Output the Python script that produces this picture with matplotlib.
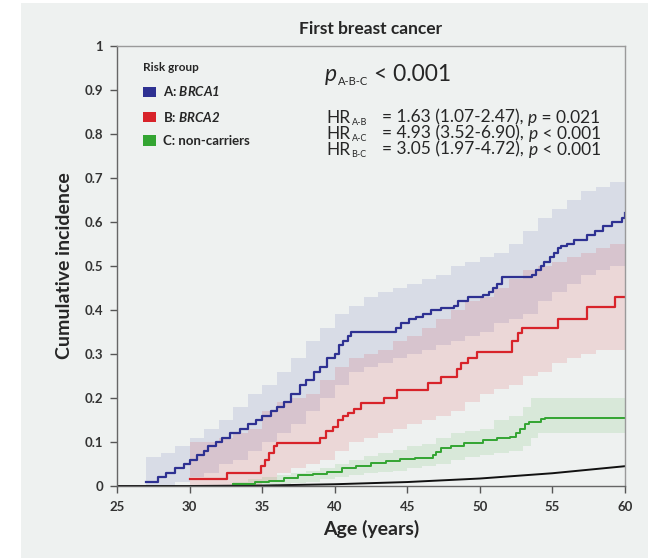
import matplotlib
matplotlib.use("Agg")
import matplotlib.pyplot as plt
from matplotlib.patches import Patch, Rectangle
import numpy as np

plt.rcParams['font.family'] = ['Lato', 'DejaVu Sans']
plt.rcParams['mathtext.fontset'] = 'custom'
plt.rcParams['mathtext.rm'] = 'Lato'
plt.rcParams['mathtext.it'] = 'Lato:italic'
plt.rcParams['mathtext.bf'] = 'Lato:bold'
plt.rcParams['mathtext.bfit'] = 'Lato:bold:italic'

# ---- data ----
# A: BRCA1
brca1_age = [27.0, 27.8, 28.4, 29.0, 29.6, 30.0, 30.5, 31.0, 31.3, 31.8, 32.2, 32.8,
             33.5, 34.0, 34.6, 35.0, 35.6, 36.0, 36.5, 37.0, 37.6, 38.0, 38.6, 39.0,
             39.5, 40.0, 40.3, 40.6, 40.9, 41.1, 44.2, 44.6, 45.1, 45.6, 46.1, 46.6,
             47.3, 48.2, 48.5, 49.2, 50.2, 50.6, 50.9, 51.2, 51.5, 53.6, 53.9, 54.2,
             54.4, 54.8, 55.1, 55.4, 55.6, 56.0, 56.5, 57.4, 57.9, 58.5, 59.1, 59.8, 60.0]
brca1_ci = [0.01, 0.02, 0.03, 0.04, 0.05, 0.06, 0.07, 0.08, 0.09, 0.10, 0.11, 0.12,
            0.13, 0.14, 0.15, 0.16, 0.17, 0.18, 0.19, 0.21, 0.23, 0.24, 0.26, 0.27,
            0.29, 0.30, 0.32, 0.33, 0.34, 0.35, 0.36, 0.37, 0.38, 0.385, 0.39, 0.40,
            0.405, 0.41, 0.42, 0.43, 0.435, 0.44, 0.45, 0.46, 0.475, 0.48, 0.49, 0.50,
            0.51, 0.52, 0.53, 0.54, 0.545, 0.55, 0.56, 0.57, 0.58, 0.59, 0.60, 0.61, 0.62]
brca1_band_age = [27, 28, 29, 30, 31, 32, 33, 34, 35, 36, 37, 38, 39, 40, 41, 42, 43,
                  44, 45, 46, 47, 48, 49, 50, 51, 52, 53, 54, 55, 56, 57, 58, 59, 60]
brca1_hi = [0.065, 0.075, 0.09, 0.11, 0.13, 0.15, 0.18, 0.21, 0.23, 0.26, 0.29, 0.33,
            0.36, 0.39, 0.41, 0.43, 0.44, 0.45, 0.46, 0.47, 0.48, 0.50, 0.51, 0.52,
            0.53, 0.55, 0.58, 0.61, 0.63, 0.65, 0.67, 0.68, 0.69, 0.70]
brca1_lo = [0.0, 0.0, 0.01, 0.02, 0.03, 0.05, 0.06, 0.08, 0.10, 0.12, 0.14, 0.17,
            0.20, 0.23, 0.26, 0.27, 0.28, 0.29, 0.30, 0.31, 0.32, 0.33, 0.34, 0.35,
            0.37, 0.38, 0.39, 0.42, 0.44, 0.46, 0.48, 0.49, 0.50, 0.51]

# B: BRCA2
brca2_age = [30.0, 32.6, 34.9, 35.2, 35.5, 35.8, 36.0, 39.0, 39.4, 39.9, 40.2, 40.6,
             40.9, 41.3, 41.8, 43.4, 44.3, 46.4, 47.3, 48.4, 48.7, 49.2, 49.8, 52.2,
             52.6, 52.9, 55.4, 57.4, 59.3, 60.0]
brca2_ci = [0.015, 0.03, 0.045, 0.06, 0.075, 0.09, 0.098, 0.11, 0.125, 0.135, 0.15, 0.16,
            0.165, 0.175, 0.188, 0.20, 0.218, 0.233, 0.248, 0.265, 0.28, 0.29, 0.305, 0.33,
            0.348, 0.36, 0.38, 0.407, 0.43, 0.43]
brca2_band_age = [30, 31, 32, 33, 34, 35, 36, 37, 38, 39, 40, 41, 42, 43, 44, 45, 46,
                  47, 48, 49, 50, 51, 52, 53, 54, 55, 56, 57, 58, 59, 60]
brca2_hi = [0.10, 0.10, 0.11, 0.12, 0.13, 0.17, 0.19, 0.20, 0.21, 0.24, 0.27, 0.29,
            0.30, 0.31, 0.33, 0.34, 0.36, 0.38, 0.40, 0.42, 0.43, 0.45, 0.47, 0.49,
            0.50, 0.51, 0.52, 0.53, 0.54, 0.55, 0.56]
brca2_lo = [0.0, 0.0, 0.0, 0.0, 0.0, 0.01, 0.03, 0.04, 0.05, 0.06, 0.08, 0.10,
            0.11, 0.12, 0.13, 0.14, 0.15, 0.16, 0.17, 0.19, 0.21, 0.22, 0.23, 0.25,
            0.26, 0.28, 0.29, 0.30, 0.31, 0.31, 0.32]

# C: non-carriers
nonc_age = [33.0, 34.5, 35.5, 36.5, 37.5, 38.5, 39.5, 40.5, 41.5, 42.5, 43.5, 44.5,
            45.5, 46.8, 47.0, 47.3, 48.0, 48.9, 50.2, 51.2, 52.1, 52.5, 52.8, 53.1,
            53.4, 54.2, 54.5, 60.0]
nonc_ci = [0.005, 0.008, 0.012, 0.018, 0.024, 0.028, 0.032, 0.04, 0.046, 0.052, 0.057, 0.062,
           0.064, 0.07, 0.078, 0.086, 0.09, 0.097, 0.104, 0.108, 0.112, 0.12, 0.13, 0.14,
           0.145, 0.152, 0.155, 0.155]
nonc_band_age = [33, 34, 35, 36, 37, 38, 39, 40, 41, 42, 43, 44, 45, 46, 47, 48, 49,
                 50, 51, 52, 53, 53.5, 54, 60]
nonc_hi = [0.01, 0.015, 0.02, 0.025, 0.03, 0.035, 0.042, 0.05, 0.06, 0.068, 0.075, 0.082,
           0.09, 0.095, 0.11, 0.12, 0.125, 0.13, 0.15, 0.16, 0.18, 0.20, 0.20, 0.20]
nonc_lo = [0.0, 0.0, 0.0, 0.005, 0.007, 0.01, 0.015, 0.02, 0.025, 0.03, 0.032, 0.035,
           0.04, 0.045, 0.05, 0.06, 0.065, 0.07, 0.075, 0.08, 0.09, 0.11, 0.12, 0.12]

# general population reference line
pop_age = [25, 30, 35, 40, 45, 50, 55, 60]
pop_ci = [0.0, 0.0, 0.001, 0.004, 0.009, 0.017, 0.029, 0.045]

xticks = [25, 30, 35, 40, 45, 50, 55, 60]
yticks = [0, 0.1, 0.2, 0.3, 0.4, 0.5, 0.6, 0.7, 0.8, 0.9, 1]
ytick_labels = ["0", "0.1", "0.2", "0.3", "0.4", "0.5", "0.6", "0.7", "0.8", "0.9", "1"]

hr_subs = ["A-B", "A-C", "B-C"]
hr_vals = ["= 1.63 (1.07-2.47), ", "= 4.93 (3.52-6.90), ", "= 3.05 (1.97-4.72), "]
hr_ps = ["= 0.021", "< 0.001", "< 0.001"]

blue = "#2e3192"
red = "#d8232a"
green = "#33a532"
bg = "#eef1f0"
txtc = "#262626"

fig = plt.figure(figsize=(6.48, 5.58), dpi=100, facecolor="white")
fig.patches.append(Rectangle((21 / 648, 0), 1, 555 / 558, transform=fig.transFigure,
                             facecolor=bg, edgecolor="none", zorder=-10))
ax = fig.add_axes([117 / 648, 1 - 486 / 558, 508 / 648, 440 / 558])
ax.set_facecolor(bg)

# confidence bands
ax.fill_between(brca1_band_age, brca1_lo, brca1_hi, step="post", color="#3c46a0",
                alpha=0.12, lw=0)
ax.fill_between(brca2_band_age, brca2_lo, brca2_hi, step="post", color="#d7282f",
                alpha=0.13, lw=0)
ax.fill_between(nonc_band_age, nonc_lo, nonc_hi, step="post", color="#3aaa35",
                alpha=0.12, lw=0)

# curves
ax.plot(pop_age, pop_ci, color="#111111", lw=1.4)
ax.step(nonc_age, nonc_ci, where="post", color=green, lw=1.4)
ax.step(brca2_age, brca2_ci, where="post", color=red, lw=1.6)
ax.step(brca1_age, brca1_ci, where="post", color=blue, lw=1.6)

ax.set_xlim(25, 60)
ax.set_ylim(0, 1)
ax.set_xticks(xticks)
ax.set_xticklabels([str(t) for t in xticks])
ax.set_yticks(yticks)
ax.set_yticklabels(ytick_labels)
ax.tick_params(axis="both", direction="out", length=5, width=1, color="#555555",
               labelsize=9.5, labelcolor="#333333", pad=5)
ax.tick_params(axis="x", pad=6)
for lab in ax.get_xticklabels() + ax.get_yticklabels():
    lab.set_fontweight("bold")
for s in ax.spines.values():
    s.set_color("#666666")
    s.set_linewidth(1)
ax.spines["top"].set_color("#9a9a9a")
ax.spines["right"].set_color("#9a9a9a")

ax.set_xlabel("Age (years)", fontsize=14, fontweight="bold", color=txtc, labelpad=5)
ax.set_ylabel("Cumulative incidence", fontsize=14, fontweight="bold", color=txtc,
              labelpad=8)
ax.set_title("First breast cancer", fontsize=12.5, fontweight="bold", color=txtc, pad=9)

# legend
handles = [Patch(facecolor=c, edgecolor="none") for c in (blue, red, green)]
labels = ["A: $\\mathbfit{BRCA1}$", "B: $\\mathbfit{BRCA2}$", "C: non-carriers"]
leg = ax.legend(handles, labels, title="Risk group", loc="upper left",
                bbox_to_anchor=(0.051, 0.963), frameon=False, fontsize=9.5,
                borderpad=0, borderaxespad=0,
                title_fontproperties={"weight": "bold", "size": 8.5},
                handlelength=1.0, handleheight=0.85, handletextpad=0.5, labelspacing=0.85)
leg._legend_box.align = "left"
for t in leg.get_texts():
    t.set_fontweight("bold")
    t.set_color(txtc)
leg.get_title().set_color(txtc)

# statistics text
tx = 0.41
p = ax.text(tx, 0.921, "p", transform=ax.transAxes, fontsize=16.5, style="italic",
            color=txtc, va="baseline")
sub = ax.annotate("A-B-C", xy=(1, 0), xycoords=p, xytext=(0.5, -1.5),
                  textcoords="offset points", fontsize=8, color=txtc, va="bottom")
ax.annotate("< 0.001", xy=(1, 0), xycoords=(sub, p), xytext=(4, 0),
            textcoords="offset points", fontsize=16.5, color=txtc, va="bottom")

for i in range(3):
    yb = 0.826 - i * 0.0364
    h = ax.text(tx + 0.003, yb, "HR", transform=ax.transAxes, fontsize=12.5,
                color=txtc, va="baseline")
    ax.annotate(hr_subs[i], xy=(1, 0), xycoords=h, xytext=(0.5, -1.2),
                textcoords="offset points", fontsize=6.5, color=txtc, va="bottom")
    v = ax.text(0.522, yb, hr_vals[i], transform=ax.transAxes, fontsize=12.5,
                color=txtc, va="baseline")
    pp = ax.annotate("p", xy=(1, 0), xycoords=v, xytext=(0, 0), textcoords="offset points",
                     fontsize=12.5, style="italic", color=txtc, va="bottom")
    ax.annotate(" " + hr_ps[i], xy=(1, 0), xycoords=(pp, v), xytext=(0, 0),
                textcoords="offset points", fontsize=12.5, color=txtc, va="bottom")

fig.savefig("out.png", dpi=100, facecolor=fig.get_facecolor())
